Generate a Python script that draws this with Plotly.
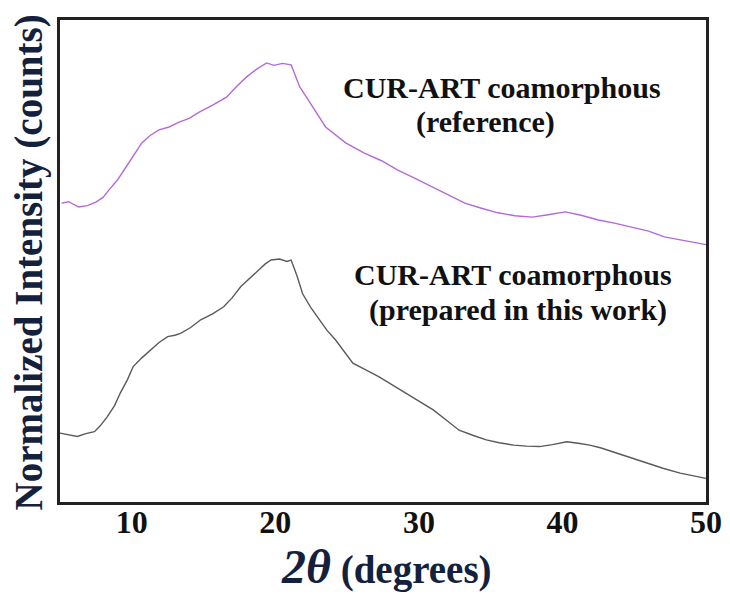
import plotly.graph_objects as go

# 2-theta (degrees) and normalized intensity
two_theta_ref = [5.1, 5.6, 6.3, 6.9, 7.5, 8.0, 8.4, 9.0, 9.6, 10.2, 10.7, 11.3, 11.9, 12.6, 13.3,
                 14.0, 14.7, 15.6, 16.6, 17.3, 18.0, 18.7, 19.4, 19.9, 20.5, 21.1, 21.7, 22.1,
                 22.6, 23.5, 24.9, 26.2, 27.4, 28.5, 29.7, 30.9, 32.0, 33.2, 34.3, 35.5, 36.7,
                 37.9, 39.0, 40.2, 41.3, 42.5, 43.7, 44.8, 46.0, 47.1, 48.3, 49.4, 50.0]
intensity_ref = [62.0, 62.3, 61.2, 61.5, 62.2, 63.2, 64.7, 66.8, 69.5, 72.3, 74.5, 76.1, 77.2, 77.8,
                 78.8, 79.6, 80.9, 82.3, 84.0, 86.2, 88.2, 89.8, 91.1, 90.6, 91.0, 90.7, 86.1,
                 84.3, 82.0, 77.8, 74.5, 72.4, 70.8, 68.9, 67.2, 65.4, 63.8, 62.0, 61.0, 60.0,
                 59.4, 59.1, 59.6, 60.2, 59.5, 58.5, 57.8, 57.1, 56.2, 55.0, 54.4, 53.7, 53.4]

two_theta_work = [5.0, 5.6, 6.2, 6.8, 7.4, 7.8, 8.3, 8.8, 9.2, 9.7, 10.1, 10.7, 11.3, 11.9, 12.5,
                  13.0, 13.4, 14.1, 14.8, 15.6, 16.4, 17.0, 17.6, 18.2, 18.8, 19.3, 19.7, 20.3,
                  20.8, 21.1, 21.5, 21.9, 22.5, 23.1, 23.6, 24.2, 24.8, 25.4, 26.3, 27.2, 28.2,
                  29.1, 30.0, 31.0, 31.9, 32.8, 33.8, 34.7, 35.6, 36.6, 37.5, 38.4, 39.3, 40.3,
                  41.1, 41.9, 42.7, 43.5, 44.7, 45.9, 47.0, 48.2, 49.0, 49.8, 50.0]
intensity_work = [14.3, 14.0, 13.6, 14.2, 14.6, 15.8, 17.7, 20.0, 22.6, 25.4, 28.1, 29.9, 31.5,
                  33.1, 34.3, 34.6, 35.0, 36.2, 37.8, 39.0, 40.5, 42.4, 44.7, 46.4, 48.1, 49.4,
                  50.2, 50.4, 49.9, 50.2, 47.0, 43.2, 40.2, 37.8, 35.6, 33.6, 31.1, 28.8, 27.4,
                  26.0, 24.2, 22.6, 20.9, 19.1, 17.0, 14.9, 13.8, 12.9, 12.3, 11.8, 11.6, 11.5,
                  11.9, 12.5, 12.2, 11.8, 11.2, 10.4, 9.3, 8.0, 7.0, 6.0, 5.5, 4.9, 4.9]

x_ticks = [10, 20, 30, 40, 50]
label_ref = ["CUR-ART coamorphous", "(reference)"]
label_work = ["CUR-ART coamorphous", "(prepared in this work)"]
x_title = "<i><span style='font-size:48px'>2θ</span></i> (degrees)"
y_title = "Normalized Intensity (counts)"

serif = "Liberation Serif, Times New Roman, serif"
text_col = "#111111"
title_col = "#14213d"

fig = go.Figure()
fig.add_trace(go.Scatter(x=two_theta_ref, y=intensity_ref, mode="lines",
                         line=dict(color="#b36ad8", width=1.4), name="reference",
                         showlegend=False))
fig.add_trace(go.Scatter(x=two_theta_work, y=intensity_work, mode="lines",
                         line=dict(color="#5a5a5a", width=1.4), name="this work",
                         showlegend=False))

ann_font = dict(family=serif, size=30, color=text_col, weight="bold")
common = dict(xref="paper", yref="paper", showarrow=False, xanchor="center", yanchor="middle")
fig.add_annotation(x=0.684, y=0.859, text=label_ref[0], font=ann_font, **common)
fig.add_annotation(x=0.658, y=0.788, text=label_ref[1], font=ann_font, **common)
fig.add_annotation(x=0.701, y=0.471, text=label_work[0], font=ann_font, **common)
fig.add_annotation(x=0.709, y=0.398, text=label_work[1], font=ann_font, **common)

# axis titles
fig.add_annotation(x=0.506, y=-0.134, text=x_title,
                   font=dict(family=serif, size=39, color=title_col, weight="bold"), **common)
fig.add_annotation(x=-0.048, y=0.497, text=y_title, textangle=-90,
                   font=dict(family=serif, size=39, color=title_col, weight="bold"), **common)

# the page body has an 8px margin, so the figure is sized/offset to compensate
fig.update_layout(
    width=722, height=591,
    margin=dict(l=52, r=24, t=12, b=97),
    paper_bgcolor="white", plot_bgcolor="white",
    xaxis=dict(
        range=[5, 50], tickvals=x_ticks, ticks="", automargin=False,
        ticklabelstandoff=-10,
        showgrid=False, zeroline=False,
        showline=True, linewidth=3, linecolor="#222222", mirror=True,
        tickfont=dict(family=serif, size=32, color=text_col, weight="bold"),
    ),
    yaxis=dict(
        range=[0, 100], showticklabels=False, ticks="", automargin=False,
        showgrid=False, zeroline=False,
        showline=True, linewidth=3, linecolor="#222222", mirror=True,
    ),
)

fig.write_html("out.html")
